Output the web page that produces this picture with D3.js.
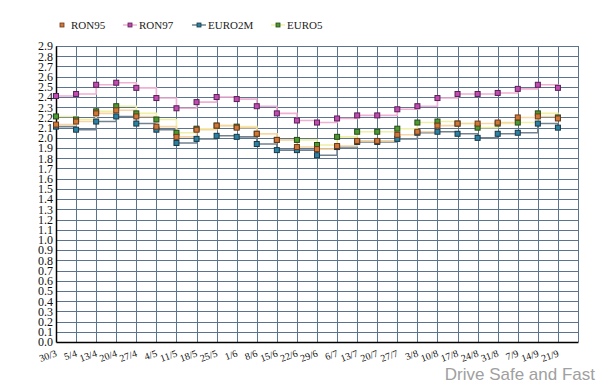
<!DOCTYPE html>
<html><head><meta charset="utf-8">
<script src="https://cdn.jsdelivr.net/npm/d3@7"></script>
<style>body{margin:0;background:#fff}svg{display:block}
.serif text, text.serif{font-family:"Liberation Serif","DejaVu Serif",serif}</style>
</head><body>
<svg id="c" width="600" height="385"></svg>
<script>
const categories = ["30/3","5/4","13/4","20/4","27/4","4/5","11/5","18/5","25/5","1/6","8/6","15/6","22/6","29/6","6/7","13/7","20/7","27/7","3/8","10/8","17/8","24/8","31/8","7/9","14/9","21/9"];
const ron95  = [2.13,2.16,2.24,2.27,2.21,2.11,2.01,2.08,2.12,2.10,2.04,1.98,1.91,1.89,1.92,1.97,1.97,2.03,2.06,2.12,2.14,2.14,2.15,2.20,2.21,2.19];
const ron97  = [2.41,2.43,2.52,2.54,2.49,2.39,2.29,2.35,2.40,2.38,2.31,2.24,2.17,2.15,2.19,2.22,2.22,2.28,2.31,2.39,2.43,2.43,2.44,2.48,2.52,2.49];
const euro2m = [2.11,2.08,2.16,2.21,2.14,2.08,1.95,1.99,2.02,2.01,1.94,1.88,1.88,1.83,1.91,1.96,1.96,1.99,2.05,2.06,2.04,2.00,2.04,2.05,2.14,2.10];
const euro5  = [2.21,2.18,2.26,2.31,2.24,2.18,2.05,2.09,2.12,2.11,2.04,1.98,1.98,1.93,2.01,2.06,2.06,2.09,2.15,2.16,2.14,2.10,2.14,2.15,2.24,2.20];
const yTicks = d3.range(0, 30).map(i => i / 10);

const series = [
  {name:"RON95",  values:ron95,  fill:"#d0783a", stroke:"#6a3818", line:"#f6d6a4"},
  {name:"RON97",  values:ron97,  fill:"#c04cb0", stroke:"#5a1e56", line:"#efb0d2"},
  {name:"EURO2M", values:euro2m, fill:"#2a82a2", stroke:"#183848", line:"#72828e"},
  {name:"EURO5",  values:euro5,  fill:"#4a9a30", stroke:"#284818", line:"#eef0a4"}
];

const svg = d3.select("#c");
const L = 56, R = 578, T = 46, B = 342;
const x = d3.scaleLinear().domain([0, categories.length]).range([L, R]);
const y = d3.scaleLinear().domain([0, 2.9]).range([B, T]);

// grid
const g = svg.append("g");
g.selectAll("line.h").data(yTicks.slice(1)).join("line")
  .attr("x1", L).attr("x2", R).attr("y1", d => Math.round(y(d)) + 0.5).attr("y2", d => Math.round(y(d)) + 0.5)
  .attr("stroke", "#5a7490").attr("stroke-width", 1);
g.selectAll("line.v").data(d3.range(1, categories.length + 1)).join("line")
  .attr("y1", T).attr("y2", B).attr("x1", d => Math.round(x(d)) + 0.5).attr("x2", d => Math.round(x(d)) + 0.5)
  .attr("stroke", "#5a7490").attr("stroke-width", 1);

// axes
const yAxis = svg.append("g").attr("class", "serif").attr("transform", `translate(${L},0)`)
  .call(d3.axisLeft(y).tickValues(yTicks).tickFormat(d3.format(".1f")).tickSize(0).tickPadding(3));
yAxis.attr("font-family", null);
yAxis.select(".domain").attr("stroke", "#000").attr("stroke-width", 1.5);
yAxis.selectAll("text").attr("font-size", 12).attr("fill", "#111");

const xAxis = svg.append("g").attr("class", "serif").attr("transform", `translate(0,${B})`)
  .call(d3.axisBottom(x).tickValues(d3.range(categories.length)).tickFormat(i => categories[i]).tickSize(0));
xAxis.attr("font-family", null);
xAxis.select(".domain").attr("stroke", "#000").attr("stroke-width", 1.5);
xAxis.selectAll("text").attr("font-size", 10).attr("fill", "#111")
  .attr("text-anchor", "end").attr("dy", 0).attr("y", 0)
  .attr("transform", "translate(1,14) rotate(-20)");

// lines
const lineGen = d3.line().x((d, i) => x(i)).y(d => y(d)).curve(d3.curveStepAfter);
const drawOrder = [series[3], series[2], series[1], series[0]];
drawOrder.forEach(s => {
  svg.append("path").attr("d", lineGen(s.values)).attr("fill", "none")
    .attr("stroke", s.line).attr("stroke-width", 1.6);
});
drawOrder.forEach(s => {
  svg.append("g").selectAll("rect").data(s.values).join("rect")
    .attr("x", (d, i) => x(i) - 2.5).attr("y", d => y(d) - 2.5)
    .attr("width", 5).attr("height", 5)
    .attr("fill", s.fill).attr("stroke", s.stroke).attr("stroke-width", 1);
});

// legend
const legX = [62, 130, 199, 278];
const lg = svg.append("g").attr("class", "serif");
series.forEach((s, i) => {
  const cx = legX[i], cy = 25;
  if (i > 0) lg.append("line").attr("x1", cx - 7).attr("x2", cx + 7).attr("y1", cy).attr("y2", cy)
    .attr("stroke", s.line).attr("stroke-width", 1.5);
  lg.append("rect").attr("x", cx - 2).attr("y", cy - 2).attr("width", 4).attr("height", 4)
    .attr("fill", s.fill).attr("stroke", s.stroke).attr("stroke-width", 0.8);
  lg.append("text").attr("x", cx + 9).attr("y", cy + 4).text(s.name)
    .attr("font-size", 11).attr("fill", "#222");
});

// watermark
svg.append("text").attr("x", 595).attr("y", 380).attr("text-anchor", "end")
  .attr("font-family", "'Liberation Sans',Arial,sans-serif").attr("font-size", 17)
  .attr("fill", "#a0a0a0").text("Drive Safe and Fast");
</script>
</body></html>
